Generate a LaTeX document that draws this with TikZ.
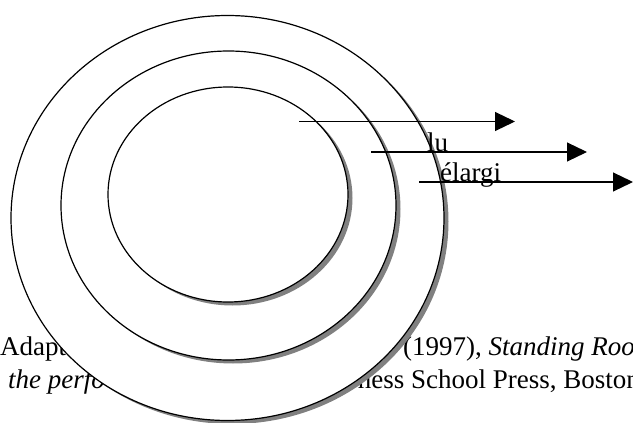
\documentclass[tikz,border=0pt]{standalone}
\usepackage{fontspec}
\setmainfont{Liberation Serif}
\usetikzlibrary{arrows.meta, shapes.geometric, shadows}

\tikzset{
  ring/.style={draw=black, line width=1.2pt, fill=white, ellipse, inner sep=0pt,
    drop shadow={shadow xshift=4.5pt, shadow yshift=-3.5pt, fill=black!50, opacity=1}},
  flow/.style={line width=1.2pt, -{Triangle[length=20pt, width=19pt]}},
  lbl/.style={anchor=base west, inner sep=0pt, font=\fontsize{27}{33}\selectfont}
}

\begin{document}
\begin{tikzpicture}[x=1pt, y=-1pt]
  \useasboundingbox (0,0) rectangle (633,423);

  % Source note (partly hidden by the rings)
  \node[lbl] (src1) at (0,355) {Adapt};
  \node[lbl] (src2) at (8,388) {\textit{the perfo}};
  \node[lbl] (src3) at (403,355) {(1997), \textit{Standing Roo}};
  \node[lbl, anchor=base east] (src4) at (640,388) {ness School Press, Boston};

  % Rings
  \node[ring, minimum width=433pt, minimum height=405pt] (outer) at (227.5,218) {};
  \node[ring, minimum width=335pt, minimum height=309pt] (middle) at (228.5,205.5) {};
  \node[ring, minimum width=240pt, minimum height=215pt] (inner) at (228,194.5) {};

  % Arrows
  \coordinate (a1s) at (299,121.5);
  \coordinate (a1e) at (515,121.5);
  \coordinate (a2s) at (371,152);
  \coordinate (a2e) at (587,152);
  \coordinate (a3s) at (419,182);
  \coordinate (a3e) at (633,182);
  \draw[flow] (a1s) -- (a1e);
  \draw[flow] (a2s) -- (a2e);
  \draw[flow] (a3s) -- (a3e);

  \node[lbl] (du) at (427,151) {lu};
  \node[lbl] (large) at (440,181.5) {élargi};
\end{tikzpicture}
\end{document}
